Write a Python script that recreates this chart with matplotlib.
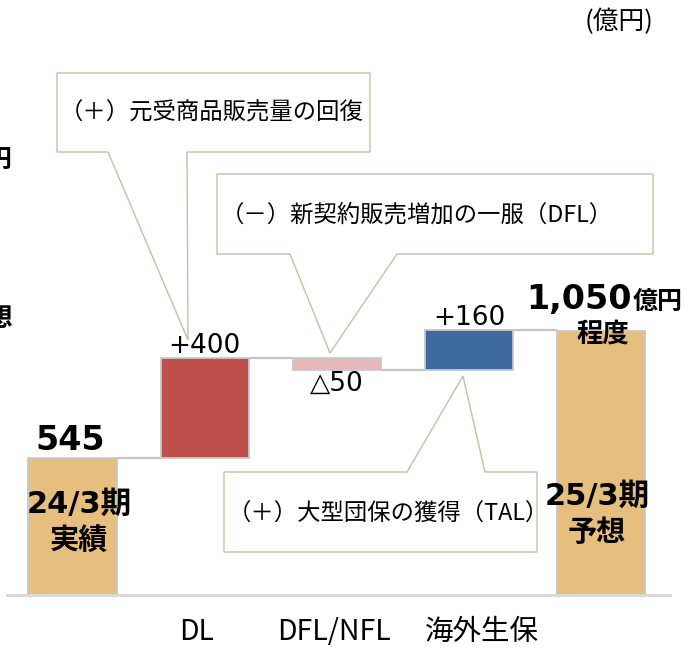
import matplotlib.pyplot as plt
from matplotlib.patches import Polygon
from matplotlib.transforms import Affine2D

# waterfall data (億円)
categories = ['24/3期実績', 'DL', 'DFL/NFL', '海外生保', '25/3期予想']
start_value = 545
changes = [400, -50, 160]
end_value = 1050
change_labels = ['+400', '△50', '+160']
axis_labels = ['DL', 'DFL/NFL', '海外生保']
notes = ['（＋）元受商品販売量の回復',
         '（－）新契約販売増加の一服（DFL）',
         '（＋）大型団保の獲得（TAL）']

colors = ['#E6BE7E', '#C0504D', '#E6B9B8', '#3F6AA0', '#E6BE7E']
edge = '#C8C8C8'
note_edge = '#C7BEA6'

JP = ['Noto Sans CJK JP', 'DejaVu Sans']
NUM = ['DejaVu Sans', 'Noto Sans CJK JP']

W, H = 692, 649
fig = plt.figure(figsize=(W / 100, H / 100), dpi=100)
ax = fig.add_axes([0, 0, 1, 1])
ax.axis('off')
ax.set_xlim(-0.549, 4.690)
ax.set_ylim(-215.0, 2368.6)

# bar bottoms / heights
bottoms = [0]
heights = [start_value]
level = start_value
levels = [level]
for c in changes:
    bottoms.append(min(level, level + c))
    heights.append(abs(c))
    level += c
    levels.append(level)
bottoms.append(0)
heights.append(end_value)

width = 0.667
x = list(range(len(categories)))
ax.bar(x, heights, bottom=bottoms, width=width, color=colors,
       edgecolor=edge, linewidth=1.3, zorder=3)

# connectors
for i, lv in enumerate(levels):
    ax.plot([i + width / 2, i + 1 - width / 2], [lv, lv], color='#C4C4C4',
            lw=1.6, zorder=2, solid_capstyle='butt')

# baseline
ax.axhline(0, xmin=7 / W, xmax=670 / W, color='#DADADA', lw=2.2, zorder=4)

# value labels
ax.annotate(f'{start_value}', (0, start_value), xytext=(-2, 18),
            textcoords='offset pixels', ha='center', va='center',
            fontsize=24, fontweight='bold', family=NUM)
offs = [(0, 12), (0, -14), (1, 12)]
for i, (lab, c) in enumerate(zip(change_labels, changes)):
    dx, dy = offs[i]
    ax.annotate(lab, (i + 1, levels[i + 1]), xytext=(dx, dy),
                textcoords='offset pixels', ha='center', va='center',
                fontsize=19, family=NUM)

ax.annotate(f'{end_value:,}', (4, end_value), xytext=(31, 22),
            textcoords='offset pixels', ha='right', va='baseline',
            fontsize=24, fontweight='bold', family=NUM)
ax.annotate('億円', (4, end_value), xytext=(32, 22),
            textcoords='offset pixels', ha='left', va='baseline',
            fontsize=18, fontweight='bold', family=JP)
ax.annotate('程度', (4, end_value), xytext=(2, -3),
            textcoords='offset pixels', ha='center', va='center',
            fontsize=19, fontweight='bold', family=JP)

# in-bar labels
ax.annotate('24/3期', (0, start_value), xytext=(7, -46),
            textcoords='offset pixels', ha='center', va='center',
            fontsize=22, fontweight='bold', family=NUM)
ax.annotate('実績', (0, start_value), xytext=(6, -82),
            textcoords='offset pixels', ha='center', va='center',
            fontsize=21, fontweight='bold', family=JP)
ax.annotate('25/3期', (4, end_value), xytext=(-4, -165),
            textcoords='offset pixels', ha='center', va='center',
            fontsize=22, fontweight='bold', family=NUM)
ax.annotate('予想', (4, end_value), xytext=(-4, -201),
            textcoords='offset pixels', ha='center', va='center',
            fontsize=21, fontweight='bold', family=JP)

# category labels
lab_dx = [-8, -3, 13]
for i, (lab, dx) in enumerate(zip(axis_labels, lab_dx)):
    ax.annotate(lab, (i + 1, 0), xytext=(dx, -37), textcoords='offset pixels',
                ha='center', va='center', fontsize=20.5, family=JP)

# unit
fig.text(619 / W, 1 - 22 / H, '(億円)', ha='center', va='center',
         fontsize=18.5, family=JP)

# text clipped at the left edge, as in the source slide
fig.text(13 / W, 1 - 160 / H, '億円', ha='right', va='center',
         fontsize=18, fontweight='bold', family=JP)
fig.text(14 / W, 1 - 318 / H, '予想', ha='right', va='center',
         fontsize=19, fontweight='bold', family=JP)

# callouts (pixel coords from top-left)
px = Affine2D().scale(1 / W, -1 / H).translate(0, 1) + fig.transFigure
shapes = [
    [(57, 73), (370, 73), (370, 152), (187, 152), (188, 340), (108, 152), (57, 152)],
    [(217, 174), (653, 174), (653, 254), (397, 254), (330, 353), (290, 254), (217, 254)],
    [(224, 472), (407, 472), (463, 376), (485, 472), (537, 472), (537, 552), (224, 552)],
]
text_pos = [(60, 113), (221, 215), (228, 514)]
for pts, note, (tx, ty) in zip(shapes, notes, text_pos):
    ax.add_patch(Polygon(pts, closed=True, transform=px, facecolor='white',
                         edgecolor=note_edge, lw=1.0, zorder=5))
    ax.text(tx, ty, note, transform=px, ha='left', va='center',
            fontsize=16.8, family=JP, zorder=6)

fig.savefig('out.png', dpi=100)
